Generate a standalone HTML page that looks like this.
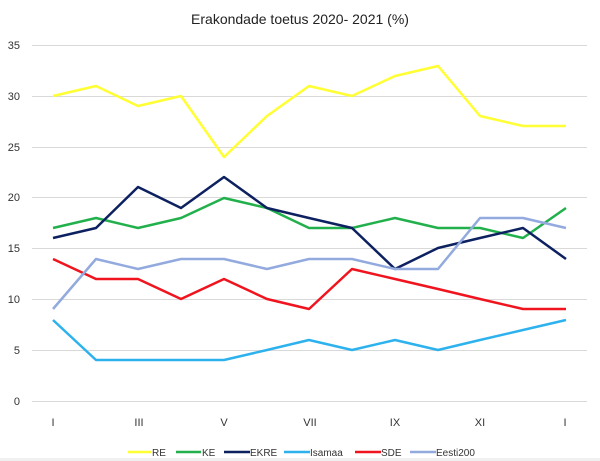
<!DOCTYPE html>
<html><head><style>
body{margin:0;background:#fff;}
svg{display:block;font-family:"Liberation Sans",sans-serif;}
</style></head><body>
<svg width="600" height="461" viewBox="0 0 600 461">
<rect x="0" y="0" width="600" height="461" fill="#fff"/>
<rect x="0" y="458" width="600" height="3" fill="#f0f0f0"/>
<text x="300" y="24" text-anchor="middle" font-size="14" fill="#222">Erakondade toetus 2020- 2021 (%)</text>
<g stroke="#d9d9d9" stroke-width="1">
<line x1="32" x2="587" y1="45.5" y2="45.5"/>
<line x1="32" x2="587" y1="96.5" y2="96.5"/>
<line x1="32" x2="587" y1="147.5" y2="147.5"/>
<line x1="32" x2="587" y1="197.5" y2="197.5"/>
<line x1="32" x2="587" y1="248.5" y2="248.5"/>
<line x1="32" x2="587" y1="299.5" y2="299.5"/>
<line x1="32" x2="587" y1="350.5" y2="350.5"/>
<line x1="32" x2="587" y1="401.5" y2="401.5"/>
</g>
<g font-size="11" fill="#333" text-anchor="end">
<text x="20" y="49">35</text><text x="20" y="100">30</text><text x="20" y="151">25</text>
<text x="20" y="201">20</text><text x="20" y="252">15</text><text x="20" y="303">10</text>
<text x="20" y="354">5</text><text x="20" y="405">0</text>
</g>
<g font-size="11" fill="#333" text-anchor="middle">
<text x="53" y="426">I</text><text x="139" y="426">III</text><text x="224" y="426">V</text>
<text x="310" y="426">VII</text><text x="395" y="426">IX</text><text x="480" y="426">XI</text><text x="565" y="426">I</text>
</g>
<g fill="none" stroke-width="2.5" stroke-linejoin="round">
<polyline stroke="#ffff33" points="53,96 96,86 138,106 181,96 224,157 267,116 309,86 352,96 395,76 438,66 480,116 523,126 566,126"/>
<polyline stroke="#22b04c" points="53,228 96,218 138,228 181,218 224,198 267,208 309,228 352,228 395,218 438,228 480,228 523,238 566,208"/>
<polyline stroke="#0d2160" points="53,238 96,228 138,187 181,208 224,177 267,208 309,218 352,228 395,269 438,248 480,238 523,228 566,259"/>
<polyline stroke="#2db2ee" points="53,320 96,360 138,360 181,360 224,360 267,350 309,340 352,350 395,340 438,350 480,340 523,330 566,320"/>
<polyline stroke="#f0141e" points="53,259 96,279 138,279 181,299 224,279 267,299 309,309 352,269 395,279 438,289 480,299 523,309 566,309"/>
<polyline stroke="#93aadf" points="53,309 96,259 138,269 181,259 224,259 267,269 309,259 352,259 395,269 438,269 480,218 523,218 566,228"/>
</g>
<g font-size="10" fill="#333" stroke-width="2.5">
<line x1="128" x2="151" y1="452" y2="452" stroke="#ffff33"/><text x="152" y="456">RE</text>
<line x1="176" x2="201" y1="452" y2="452" stroke="#22b04c"/><text x="202" y="456">KE</text>
<line x1="224" x2="250" y1="452" y2="452" stroke="#0d2160"/><text x="250" y="456">EKRE</text>
<line x1="284" x2="310" y1="452" y2="452" stroke="#2db2ee"/><text x="310" y="456">Isamaa</text>
<line x1="355" x2="381" y1="452" y2="452" stroke="#f0141e"/><text x="381" y="456">SDE</text>
<line x1="410" x2="436" y1="452" y2="452" stroke="#93aadf"/><text x="436" y="456">Eesti200</text>
</g>
</svg>
</body></html>
